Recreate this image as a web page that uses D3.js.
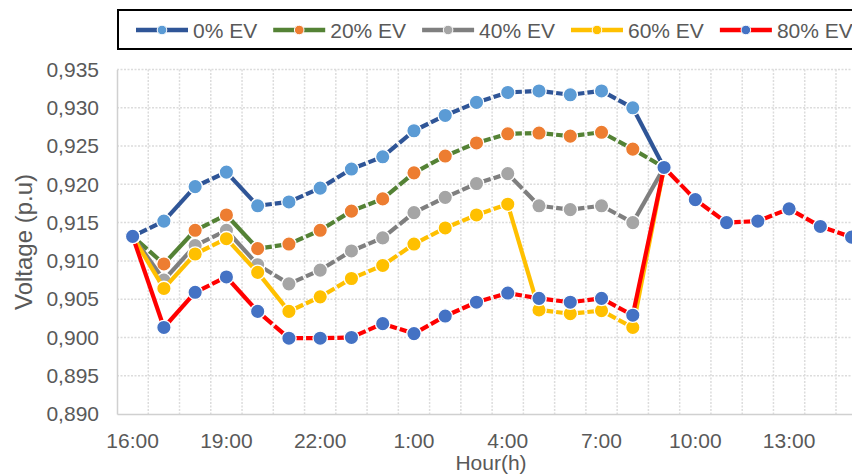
<!DOCTYPE html>
<html><head><meta charset="utf-8">
<script src="https://cdn.jsdelivr.net/npm/d3@7/dist/d3.min.js"></script>
<style>
body{margin:0;background:#fff}
svg{display:block;font-family:"Liberation Sans",Arial,sans-serif}
</style>
</head><body>
<svg id="chart" width="852" height="474"></svg>
<script>
// ---- data ----
const hours = ["16:00","17:00","18:00","19:00","20:00","21:00","22:00","23:00","0:00","1:00","2:00","3:00",
               "4:00","5:00","6:00","7:00","8:00","9:00","10:00","11:00","12:00","13:00","14:00","15:00"];
const tickLabels = ["16:00","19:00","22:00","1:00","4:00","7:00","10:00","13:00"];
const yTicks = [0.890,0.895,0.900,0.905,0.910,0.915,0.920,0.925,0.930,0.935];
const seriesNames = ["0% EV","20% EV","40% EV","60% EV","80% EV"];
const ev0  = [0.9132,0.9152,0.9197,0.9216,0.9172,0.9177,0.9195,0.9220,0.9236,0.9270,0.9290,0.9307,0.9320,0.9322,0.9317,0.9322,0.9300,0.9222,null,null,null,null,null,null];
const ev20 = [0.9132,0.9096,0.9140,0.9160,0.9116,0.9122,0.9140,0.9165,0.9181,0.9215,0.9237,0.9254,0.9266,0.9267,0.9263,0.9268,0.9246,0.9222,null,null,null,null,null,null];
const ev40 = [0.9132,0.9075,0.9120,0.9140,0.9095,0.9070,0.9088,0.9113,0.9130,0.9163,0.9183,0.9201,0.9214,0.9172,0.9167,0.9172,0.9150,0.9222,null,null,null,null,null,null];
const ev60 = [0.9132,0.9064,0.9109,0.9129,0.9085,0.9034,0.9053,0.9077,0.9094,0.9122,0.9143,0.9160,0.9174,0.9036,0.9031,0.9035,0.9013,0.9222,null,null,null,null,null,null];
const ev80 = [0.9132,0.9013,0.9059,0.9079,0.9034,0.8999,0.8999,0.9000,0.9018,0.9005,0.9028,0.9046,0.9058,0.9051,0.9046,0.9051,0.9029,0.9222,0.9180,0.9150,0.9152,0.9168,0.9145,0.9131];
const seriesValues = [ev0, ev20, ev40, ev60, ev80];
const lineColors   = ["#2F5597","#548235","#7F7F7F","#FFC000","#FF0000"];
const markerColors = ["#5B9BD5","#ED7D31","#A5A5A5","#FFC000","#4472C4"];

// ---- layout ----
const svg = d3.select("#chart");
const plotLeft = 117, plotTop = 69.5, plotBottom = 414, band = 31.26;
const x = d3.scaleBand().domain(hours).range([plotLeft, plotLeft + band * hours.length]).paddingInner(0).paddingOuter(0);
const y = d3.scaleLinear().domain([0.890, 0.935]).range([plotBottom, plotTop]);
const cx = h => x(h) + x.bandwidth() / 2;
const grey = "#595959";

// gridlines
const g = svg.append("g");
g.selectAll("line.h").data(yTicks.filter(t => t > 0.890)).join("line")
  .attr("x1", plotLeft).attr("x2", plotLeft + band * hours.length)
  .attr("y1", d => y(d)).attr("y2", d => y(d))
  .attr("stroke", "#DCDCDC").attr("stroke-width", 1.5).attr("stroke-dasharray", "2,1.5");
g.selectAll("line.v").data(hours.slice(1)).join("line")
  .attr("x1", d => x(d)).attr("x2", d => x(d))
  .attr("y1", plotTop).attr("y2", plotBottom)
  .attr("stroke", "#DCDCDC").attr("stroke-width", 1.5).attr("stroke-dasharray", "2,1.5");

// axes
const yAxis = d3.axisLeft(y).tickValues(yTicks).tickSize(0).tickPadding(18)
  .tickFormat(d => d3.format(".3f")(d).replace(".", ","));
const ya = svg.append("g").attr("transform", `translate(${plotLeft},0)`).call(yAxis);
ya.select(".domain").attr("stroke", "#D0D0D0").attr("stroke-width", 1.5);
ya.selectAll("text").attr("fill", grey).style("font-size", "21px").style("font-family", "Liberation Sans, Arial, sans-serif");

const xAxis = d3.axisBottom(x).tickValues(tickLabels).tickSize(0).tickPadding(19);
const xa = svg.append("g").attr("transform", `translate(0,${plotBottom})`).call(xAxis);
xa.select(".domain").attr("stroke", "#D0D0D0").attr("stroke-width", 1.5);
xa.selectAll("text").attr("fill", grey).style("font-size", "21px").style("font-family", "Liberation Sans, Arial, sans-serif");

// axis titles
svg.append("text").attr("transform", `translate(32,242) rotate(-90)`)
  .attr("text-anchor", "middle").attr("fill", grey).style("font-size", "24px").text("Voltage (p.u)");
svg.append("text").attr("x", 491).attr("y", 470)
  .attr("text-anchor", "middle").attr("fill", grey).style("font-size", "21px").text("Hour(h)");

// series
seriesValues.forEach((vals, si) => {
  const pts = vals.map((v, i) => ({h: hours[i], v})).filter(p => p.v !== null);
  const sg = svg.append("g");
  for (let i = 0; i < pts.length - 1; i++) {
    const a = pts[i], b = pts[i + 1];
    const x1 = cx(a.h), y1 = y(a.v), x2 = cx(b.h), y2 = y(b.v);
    const L = Math.hypot(x2 - x1, y2 - y1);
    const ln = sg.append("line").attr("x1", x1).attr("y1", y1).attr("x2", x2).attr("y2", y2)
      .attr("stroke", lineColors[si]).attr("stroke-width", 4.2);
    if (L < 45) ln.attr("stroke-dasharray", `${L / 2 - 1.5},3,${L}`);
  }
  sg.selectAll("circle").data(pts).join("circle")
    .attr("cx", d => cx(d.h)).attr("cy", d => y(d.v)).attr("r", 7.2)
    .attr("fill", markerColors[si]).attr("stroke", "#fff").attr("stroke-width", 1.3);
});

// legend
const lg = svg.append("g");
lg.append("rect").attr("x", 118).attr("y", 10).attr("width", 760).attr("height", 39)
  .attr("fill", "#fff").attr("stroke", "#000").attr("stroke-width", 2);
let lx = 136;
seriesNames.forEach((name, si) => {
  const item = lg.append("g");
  item.append("line").attr("x1", lx).attr("x2", lx + 52).attr("y1", 30).attr("y2", 30)
    .attr("stroke", lineColors[si]).attr("stroke-width", 4.5);
  item.append("circle").attr("cx", lx + 26).attr("cy", 30).attr("r", 4.8)
    .attr("fill", markerColors[si]).attr("stroke", "#fff").attr("stroke-width", 1);
  const t = item.append("text").attr("x", lx + 57).attr("y", 37.5).attr("fill", grey)
    .style("font-size", "21px").text(name);
  lx += 57 + t.node().getComputedTextLength() + 16;
});
</script>
</body></html>
